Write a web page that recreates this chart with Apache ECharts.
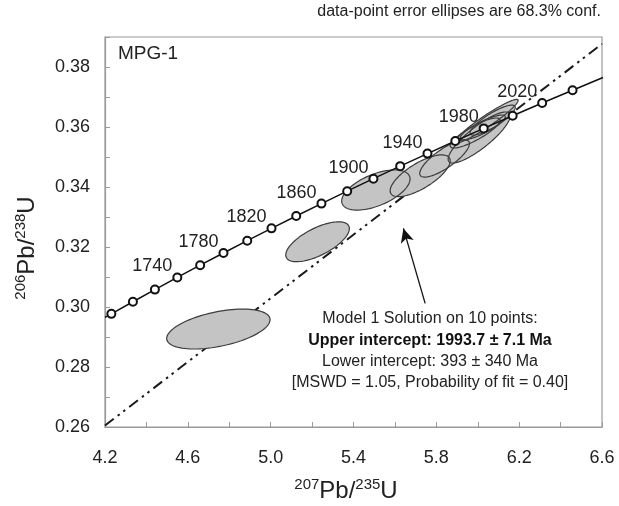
<!DOCTYPE html>
<html>
<head>
<meta charset="utf-8">
<script src="https://cdn.jsdelivr.net/npm/echarts@6/dist/echarts.min.js"></script>
<style>html,body{margin:0;padding:0;background:#fff}#c{width:619px;height:506px}</style>
</head>
<body>
<div id="c"></div>
<script>
// Concordia curve points (age in Ma, 207Pb/235U, 206Pb/238U)
const concordiaAges = [1674, 1680, 1700, 1720, 1740, 1760, 1780, 1800, 1820, 1840, 1860, 1880, 1900, 1920, 1940, 1960, 1980, 2000, 2020, 2040, 2060];
const concordiaX = [4.2000, 4.2307, 4.3348, 4.4409, 4.5491, 4.6595, 4.7721, 4.8869, 5.0040, 5.1234, 5.2453, 5.3695, 5.4962, 5.6254, 5.7572, 5.8916, 6.0287, 6.1685, 6.3111, 6.4578, 6.6049];
const concordiaY = [0.29652, 0.29772, 0.30175, 0.30580, 0.30986, 0.31393, 0.31801, 0.32210, 0.32621, 0.33033, 0.33447, 0.33861, 0.34277, 0.34695, 0.35113, 0.35533, 0.35954, 0.36377, 0.36801, 0.37225, 0.37652];
const edgeAges = [1674, 2060];
const labeledAges = [1740, 1780, 1820, 1860, 1900, 1940, 1980, 2020];

// Data-point error ellipses: centre, half-extent in x and y, correlation
const ellipseX   = [4.7475, 5.2265, 5.508, 5.722, 5.84, 6.007, 5.9875, 6.043, 6.024, 6.072];
const ellipseY   = [0.29265, 0.32175, 0.3390, 0.34375, 0.3495, 0.3565, 0.358, 0.36195, 0.35985, 0.3623];
const ellipseSX  = [0.2495, 0.1535, 0.165, 0.145, 0.12, 0.15, 0.1205, 0.152, 0.109, 0.109];
const ellipseSY  = [0.00665, 0.00665, 0.0067, 0.00695, 0.0062, 0.0085, 0.005, 0.00725, 0.00415, 0.005];
const ellipseRho = [0.47, 0.66, 0.55, 0.72, 0.8, 0.85, 0.85, 0.95, 0.85, 0.85];

// Discordia line (through lower and upper intercepts), clipped to plot range
const discordiaX = [4.2, 6.6];
const discordiaY = [0.2605, 0.3877];

// Arrow annotation (tail, tip) in data units
const arrowX = [5.746, 5.641];
const arrowY = [0.3012, 0.3262];

const xTickLabels = ['4.2', '4.6', '5.0', '5.4', '5.8', '6.2', '6.6'];
const yTickLabels = ['0.26', '0.28', '0.30', '0.32', '0.34', '0.36', '0.38'];

const FONT = "'Liberation Sans', Arial, Helvetica, sans-serif";
const TXT = '#222';

const chart = echarts.init(document.getElementById('c'));

const concordiaData = concordiaAges.map((a, i) => ({
  value: [concordiaX[i], concordiaY[i]],
  symbol: edgeAges.includes(a) ? 'none' : 'emptyCircle',
  label: { show: labeledAges.includes(a), formatter: String(a) }
}));

const ellipseData = ellipseX.map((x, i) => [x, ellipseY[i], ellipseSX[i], ellipseSY[i], ellipseRho[i]]);

function ellipseRender(fill) {
  return function (params, api) {
    const cx = api.value(0), cy = api.value(1), sx = api.value(2), sy = api.value(3), r = api.value(4);
    const q = Math.sqrt(1 - r * r);
    const pts = [];
    for (let k = 0; k < 96; k++) {
      const t = k / 96 * Math.PI * 2;
      const px = cx + sx * Math.cos(t);
      const py = cy + sy * (r * Math.cos(t) + q * Math.sin(t));
      pts.push(api.coord([px, py]));
    }
    return {
      type: 'polygon',
      shape: { points: pts },
      style: fill
        ? { fill: '#c4c4c4', stroke: 'none' }
        : { fill: 'none', stroke: '#3c3c3c', lineWidth: 1.2 }
    };
  };
}

chart.setOption({
  animation: false,
  grid: { left: 105, right: 17, top: 37, bottom: 79, show: true, borderColor: '#9a9a9a', borderWidth: 1.2 },
  xAxis: {
    type: 'value', min: 4.2, max: 6.6, interval: 0.2,
    axisLine: { show: true, onZero: false, lineStyle: { color: '#9a9a9a', width: 1.2 } },
    axisTick: { show: true, inside: true, length: 5, lineStyle: { color: '#9a9a9a' } },
    splitLine: { show: false },
    axisLabel: {
      margin: 22, fontSize: 18, color: TXT, fontFamily: FONT,
      formatter: v => xTickLabels.includes(v.toFixed(1)) ? v.toFixed(1) : ''
    }
  },
  yAxis: {
    type: 'value', min: 0.26, max: 0.39, interval: 0.01,
    axisLine: { show: true, onZero: false, lineStyle: { color: '#9a9a9a', width: 1.2 } },
    axisTick: { show: true, inside: true, length: 5, lineStyle: { color: '#9a9a9a' } },
    splitLine: { show: false },
    axisLabel: {
      margin: 15, fontSize: 18, color: TXT, fontFamily: FONT,
      formatter: v => yTickLabels.includes(v.toFixed(2)) ? v.toFixed(2) : ''
    }
  },
  series: [
    {
      type: 'line',
      data: discordiaX.map((x, i) => [x, discordiaY[i]]),
      showSymbol: false, symbol: 'none',
      lineStyle: { color: '#1a1a1a', width: 2, type: [11, 5, 2.5, 4.5, 2.5, 5] },
      z: 2,
      markLine: {
        silent: true,
        symbol: ['none', 'arrow'],
        symbolSize: [10, 14],
        label: { show: false },
        lineStyle: { color: '#111', width: 1.3, type: 'solid' },
        data: [[{ coord: [arrowX[0], arrowY[0]] }, { coord: [arrowX[1], arrowY[1]] }]]
      }
    },
    {
      type: 'custom', data: ellipseData, renderItem: ellipseRender(true),
      encode: { x: 0, y: 1 }, clip: true, z: 3
    },
    {
      type: 'custom', data: ellipseData, renderItem: ellipseRender(false),
      encode: { x: 0, y: 1 }, clip: true, z: 4
    },
    {
      type: 'line',
      data: concordiaData,
      symbolSize: 8,
      itemStyle: { color: '#111', borderWidth: 1.5 },
      lineStyle: { color: '#111', width: 1.5 },
      label: {
        position: 'left', distance: 0, offset: [0, -11],
        fontSize: 18, color: TXT, fontFamily: FONT
      },
      z: 5
    }
  ],
  graphic: [
    {
      type: 'text', x: 601, y: 12,
      style: { text: 'data-point error ellipses are 68.3% conf.', fontSize: 16, fontFamily: FONT, fill: TXT, align: 'right', verticalAlign: 'middle' }
    },
    {
      type: 'text', x: 118, y: 54,
      style: { text: 'MPG-1', fontSize: 19, fontFamily: FONT, fill: TXT, align: 'left', verticalAlign: 'middle' }
    },
    {
      type: 'text', x: 430, y: 319, z: 10,
      style: { text: 'Model 1 Solution on 10 points:', fontSize: 16, fontFamily: FONT, fill: TXT, align: 'center', verticalAlign: 'middle' }
    },
    {
      type: 'text', x: 430, y: 340.5, z: 10,
      style: { text: 'Upper intercept: 1993.7 \u00b1 7.1 Ma', fontSize: 16, fontWeight: 'bold', fontFamily: FONT, fill: '#111', align: 'center', verticalAlign: 'middle' }
    },
    {
      type: 'text', x: 430, y: 361.5, z: 10,
      style: { text: 'Lower intercept: 393 \u00b1 340 Ma', fontSize: 16, fontFamily: FONT, fill: TXT, align: 'center', verticalAlign: 'middle' }
    },
    {
      type: 'text', x: 430, y: 383, z: 10,
      style: { text: '[MSWD = 1.05, Probability of fit = 0.40]', fontSize: 16, fontFamily: FONT, fill: TXT, align: 'center', verticalAlign: 'middle' }
    },
    {
      type: 'text', x: 346, y: 491,
      style: {
        text: '{s|207}{b|Pb/}{s|235}{b|U}', align: 'center', verticalAlign: 'middle', fill: TXT,
        rich: {
          s: { fontSize: 15, lineHeight: 15, verticalAlign: 'top', fontFamily: FONT, fill: TXT },
          b: { fontSize: 24, lineHeight: 27, verticalAlign: 'middle', fontFamily: FONT, fill: TXT }
        }
      }
    },
    {
      type: 'text', x: 27, y: 248, rotation: Math.PI / 2,
      style: {
        text: '{s|206}{b|Pb/}{s|238}{b|U}', align: 'center', verticalAlign: 'middle', fill: TXT,
        rich: {
          s: { fontSize: 15, lineHeight: 15, verticalAlign: 'top', fontFamily: FONT, fill: TXT },
          b: { fontSize: 24, lineHeight: 27, verticalAlign: 'middle', fontFamily: FONT, fill: TXT }
        }
      }
    }
  ]
});
</script>
</body>
</html>
